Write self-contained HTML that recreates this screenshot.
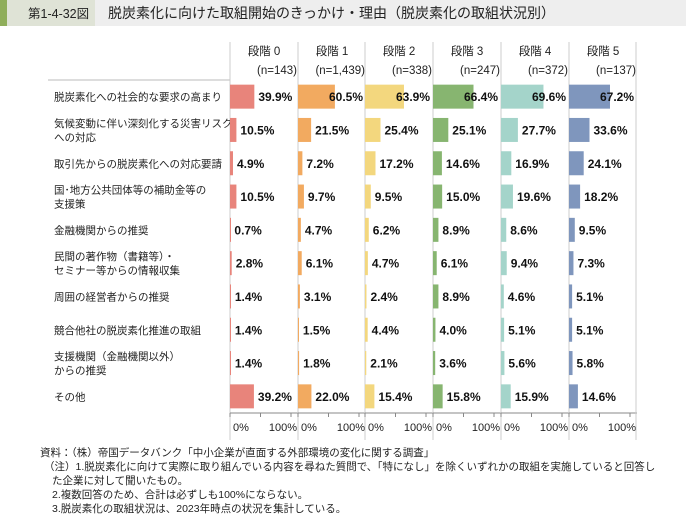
<!DOCTYPE html>
<html><head><meta charset="utf-8"><style>
body{margin:0;background:#fff;}
svg{display:block;font-family:"Liberation Sans","Noto Sans CJK JP",sans-serif;}
</style></head><body>
<svg id="s" width="686" height="522" xmlns="http://www.w3.org/2000/svg">
<rect x="0" y="0" width="686" height="26" fill="#eeeeee"/>
<rect x="0" y="0" width="95" height="26" fill="#dfe3d6"/>
<rect x="0" y="0" width="7" height="26" fill="#8fae5a"/>
<text x="28" y="18" font-size="12.5" fill="#222">第1-4-32図</text>
<text x="108" y="18" font-size="14" fill="#222">脱炭素化に向けた取組開始のきっかけ・理由（脱炭素化の取組状況別）</text>
<line x1="48" y1="80" x2="230" y2="80" stroke="#bbb" stroke-width="1"/>
<g id="g"></g>
<g font-size="10.5" fill="#222">
<text x="40" y="456">資料：（株）帝国データバンク「中小企業が直面する外部環境の変化に関する調査」</text>
<text x="44" y="470">（注）1.脱炭素化に向けて実際に取り組んでいる内容を尋ねた質問で、「特になし」を除くいずれかの取組を実施していると回答し</text>
<text x="52" y="484">た企業に対して聞いたもの。</text>
<text x="52" y="498">2.複数回答のため、合計は必ずしも100%にならない。</text>
<text x="52" y="512">3.脱炭素化の取組状況は、2023年時点の状況を集計している。</text>
</g>
</svg>
<script>
(function(){
var g=document.getElementById('g'),h='';
var P=[230,298,365,433,501,569],PW=68,S=0.61;
var cols=['#e8847b','#f2aa60','#f3d77e','#87b570','#a4d4ca','#7f96bd'];
var ns=['143','1,439','338','247','372','137'];
var labels=[['脱炭素化への社会的な要求の高まり'],['気候変動に伴い深刻化する災害リスク','への対応'],['取引先からの脱炭素化への対応要請'],['国･地方公共団体等の補助金等の','支援策'],['金融機関からの推奨'],['民間の著作物（書籍等）・','セミナー等からの情報収集'],['周囲の経営者からの推奨'],['競合他社の脱炭素化推進の取組'],['支援機関（金融機関以外）','からの推奨'],['その他']];
var d=[[39.9,60.5,63.9,66.4,69.6,67.2],[10.5,21.5,25.4,25.1,27.7,33.6],[4.9,7.2,17.2,14.6,16.9,24.1],[10.5,9.7,9.5,15.0,19.6,18.2],[0.7,4.7,6.2,8.9,8.6,9.5],[2.8,6.1,4.7,6.1,9.4,7.3],[1.4,3.1,2.4,8.9,4.6,5.1],[1.4,1.5,4.4,4.0,5.1,5.1],[1.4,1.8,2.1,3.6,5.6,5.8],[39.2,22.0,15.4,15.8,15.9,14.6]];
var T0=80,rh=33.3;
for(var j=0;j<6;j++){var x=P[j];
h+='<line x1="'+x+'" y1="42" x2="'+x+'" y2="440" stroke="#ccc"/>';
h+='<text x="'+(x+34)+'" y="55" font-size="11.5" text-anchor="middle" fill="#222">段階 '+j+'</text>';
h+='<text x="'+(x+67)+'" y="74" font-size="11.5" text-anchor="end" fill="#222">(n='+ns[j]+')</text>';
h+='<line x1="'+x+'" y1="413" x2="'+(x+PW)+'" y2="413" stroke="#888"/>';
[0,30.5,61].forEach(function(t){h+='<line x1="'+(x+t)+'" y1="413" x2="'+(x+t)+'" y2="417" stroke="#888"/>';});
h+='<text x="'+(x+3)+'" y="431" font-size="11" fill="#222">0%</text>';
h+='<text x="'+(x+67)+'" y="431" font-size="11" text-anchor="end" fill="#222">100%</text>';
}
h+='<line x1="636" y1="42" x2="636" y2="440" stroke="#ccc"/>';
for(var i=0;i<10;i++){var c=T0+rh*i+rh/2;
var L=labels[i];
if(L.length==1)h+='<text x="54" y="'+(c+4)+'" font-size="10.5" fill="#222">'+L[0]+'</text>';
else{h+='<text x="54" y="'+(c-3)+'" font-size="10.5" fill="#222">'+L[0]+'</text><text x="54" y="'+(c+11)+'" font-size="10.5" fill="#222">'+L[1]+'</text>';}
for(var j=0;j<6;j++){var x=P[j],w=d[i][j]*S;
h+='<rect x="'+x+'" y="'+(c-12)+'" width="'+Math.max(w,1)+'" height="24" fill="'+cols[j]+'"/>';
var t=d[i][j].toFixed(1)+'%',tw=35,tx=x+w+4;
if(tx+tw>x+PW-2)tx=x+PW-2-tw;
h+='<text x="'+tx+'" y="'+(c+4.5)+'" font-size="12" font-weight="bold" fill="#111">'+t+'</text>';
}}
g.innerHTML=h;
})();
</script>
</body></html>
